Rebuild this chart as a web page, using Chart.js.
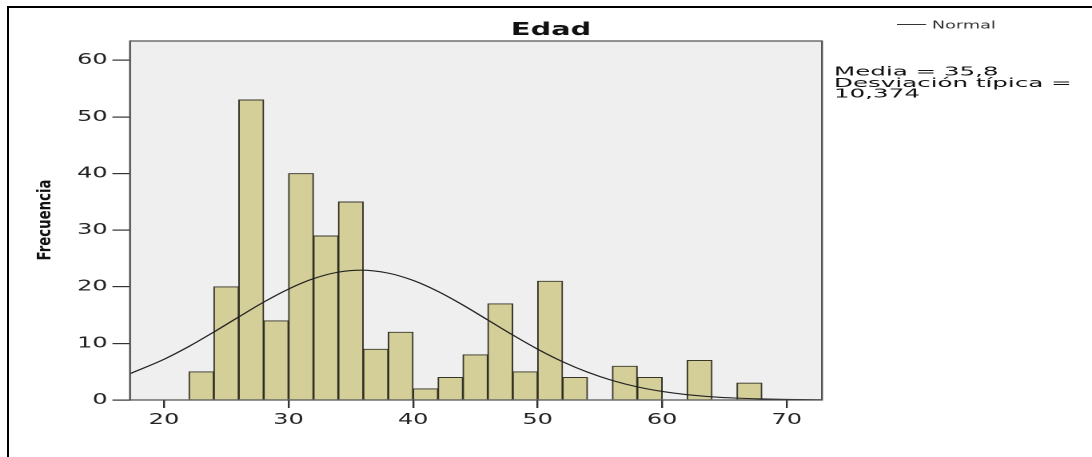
<!DOCTYPE html>
<html><head><meta charset="utf-8">
<script src="https://cdn.jsdelivr.net/npm/chart.js@4.4.1/dist/chart.umd.min.js"></script>
<style>
html,body{margin:0;padding:0;background:#fff;overflow:hidden;width:1092px;height:457px;}
#frame{position:absolute;left:7px;top:6px;width:1085px;height:451px;border-top:2px solid #000;border-left:2px solid #000;box-sizing:border-box;pointer-events:none;z-index:2}
#wrap{position:absolute;left:0;top:0;width:683px;height:457px;transform:scaleX(1.5988);transform-origin:0 0;}
</style></head><body>
<div id="wrap"><canvas id="c"></canvas></div>
<div id="frame"></div>
<script>
// ---- data ----
const chartTitle = "Edad";
const yAxisTitle = "Frecuencia";
const binStarts = [22,24,26,28,30,32,34,36,38,40,42,44,46,48,50,52,54,56,58,60,62,64,66];
const binWidth = 2;
const counts    = [5,20,53,14,40,29,35,9,12,2,4,8,17,5,21,4,0,6,4,0,7,0,3];
const normalX = [17.27,20,22,24,26,28,30,32,34,35.8,38,40,42,44,46,48,50,52,54,56,58,60,62,64,66,68,70,72.83];
const normalY = [4.65,7.19,9.46,12.00,14.67,17.28,19.60,21.43,22.58,22.92,22.41,21.12,19.17,16.77,14.13,11.48,8.98,6.77,4.92,3.44,2.32,1.51,0.94,0.57,0.33,0.19,0.10,0.04];
const xTickValues = [20,30,40,50,60,70];
const yTickValues = [0,10,20,30,40,50,60];
const xMin = 17.27, xMax = 72.83, yMin = 0, yMax = 63.4;
const legendLabel = "Normal";
const statsLines = ["Media = 35,8", "Desviación típica =", "10,374"];

// ---- layout helpers (canvas is stretched horizontally by S) ----
const S = 1092/683;
const cx = v => v / S;

const deco = {
  id: 'deco',
  beforeDraw(chart){
    const {ctx, chartArea:a} = chart;
    ctx.save();
    ctx.fillStyle = '#efefef';
    ctx.fillRect(a.left, a.top, a.right-a.left, a.bottom-a.top);
    ctx.restore();
  },
  afterDraw(chart){
    const {ctx, chartArea:a} = chart;
    ctx.save();
    // plot frame
    ctx.strokeStyle = '#4d4d4d';
    ctx.lineWidth = 1.2;
    ctx.strokeRect(a.left, a.top, a.right-a.left, a.bottom-a.top);
    // title
    ctx.fillStyle = '#111';
    ctx.font = 'bold 18px "DejaVu Sans", sans-serif';
    ctx.textAlign = 'center';
    ctx.textBaseline = 'alphabetic';
    ctx.fillText(chartTitle, cx(551), 35);
    // legend
    ctx.strokeStyle = '#333';
    ctx.lineWidth = 1;
    ctx.beginPath(); ctx.moveTo(cx(897), 24.5); ctx.lineTo(cx(926), 24.5); ctx.stroke();
    ctx.save();
    ctx.translate(cx(932), 28.5);
    ctx.scale(1.05, 1);
    ctx.fillStyle = '#333';
    ctx.font = '10.5px "DejaVu Sans", sans-serif';
    ctx.textAlign = 'left';
    ctx.fillText(legendLabel, 0, 0);
    ctx.restore();
    // stats
    const bases = [75.5, 86.8, 97.6];
    statsLines.forEach((t,i) => {
      ctx.save();
      ctx.translate(cx(834), bases[i]);
      ctx.scale(1.2, 1);
      ctx.fillStyle = '#111';
      ctx.font = '12.8px "DejaVu Sans", sans-serif';
      ctx.textAlign = 'left';
      ctx.fillText(t, 0, 0);
      ctx.restore();
    });
    // y axis title
    ctx.save();
    ctx.translate(cx(50.5), 220);
    ctx.rotate(-Math.PI/2);
    ctx.scale(1, 0.88);
    ctx.fillStyle = '#111';
    ctx.font = 'bold 13.3px "DejaVu Sans", sans-serif';
    ctx.textAlign = 'center';
    ctx.textBaseline = 'alphabetic';
    ctx.fillText(yAxisTitle, 0, 0);
    ctx.restore();
    ctx.restore();
  }
};

const barData = binStarts.map((s,i) => ({x: s + binWidth/2, y: counts[i]}));
const lineData = normalX.map((x,i) => ({x, y: normalY[i]}));

new Chart(document.getElementById('c'), {
  type: 'bar',
  data: {
    datasets: [
      {
        type: 'line', label: legendLabel, data: lineData, order: 0,
        borderColor: '#222', borderWidth: 1.1, pointRadius: 0, fill: false,
        cubicInterpolationMode: 'monotone'
      },
      {
        type: 'bar', label: 'Edad', data: barData, order: 1,
        backgroundColor: '#d4cf98', borderColor: 'rgba(45,43,32,0.95)', borderWidth: 1,
        barPercentage: 1, categoryPercentage: 1, grouped: false
      }
    ]
  },
  options: {
    responsive: true, maintainAspectRatio: false, animation: false,
    devicePixelRatio: 2,
    layout: { padding: { left: 0, top: 41, right: 683 - cx(822), bottom: 0 } },
    plugins: { legend: { display: false }, tooltip: { enabled: false }, title: { display: false } },
    events: [],
    scales: {
      x: {
        type: 'linear', min: xMin, max: xMax, offset: false,
        afterBuildTicks: s => { s.ticks = xTickValues.map(v => ({value: v})); },
        afterFit: s => { s.height = 57; },
        border: { display: false },
        grid: { display: true, offset: false, drawOnChartArea: false, drawTicks: true, tickLength: 8, color: '#333', lineWidth: 1.2 },
        ticks: { color: '#222', padding: 3, maxRotation: 0, autoSkip: false, font: { family: '"DejaVu Sans", sans-serif', size: 15 } }
      },
      y: {
        type: 'linear', min: yMin, max: yMax,
        afterBuildTicks: s => { s.ticks = yTickValues.map(v => ({value: v})); },
        afterFit: s => { s.width = cx(130); },
        border: { display: false },
        grid: { display: true, offset: false, drawOnChartArea: false, drawTicks: true, tickLength: 11, color: '#333', lineWidth: 1.2 },
        ticks: { color: '#222', padding: 3, autoSkip: false, font: { family: '"DejaVu Sans", sans-serif', size: 15 } }
      }
    }
  },
  plugins: [deco]
});
</script>
</body></html>
